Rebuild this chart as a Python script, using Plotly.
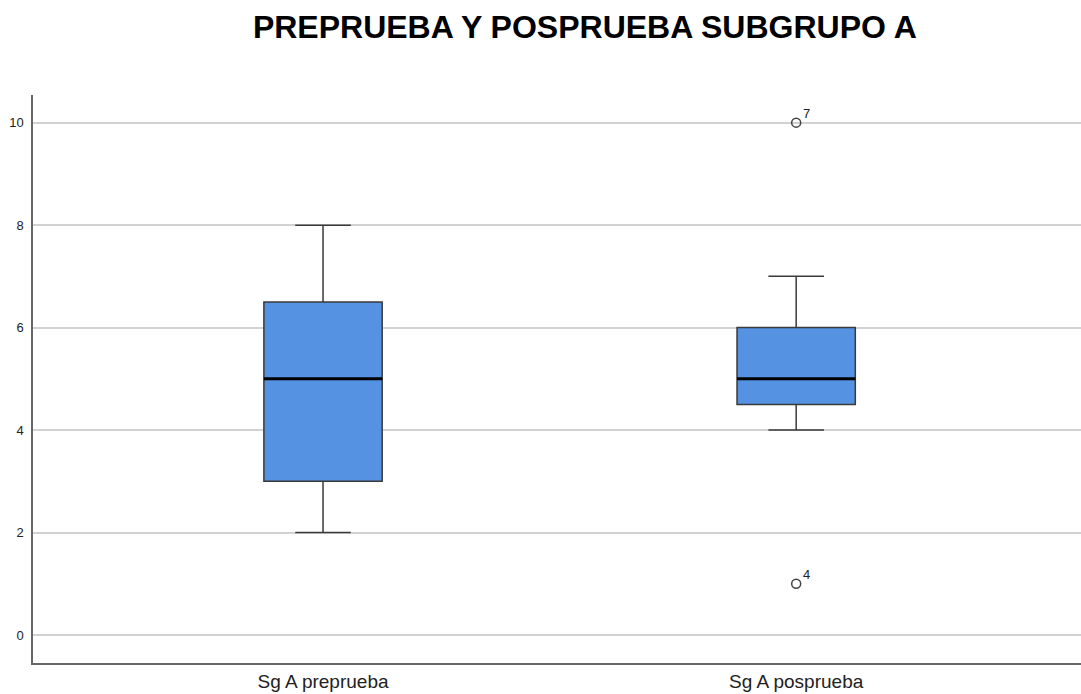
import plotly.graph_objects as go

categories = ["Sg A preprueba", "Sg A posprueba"]
q1 = [3.0, 4.5]
medians = [5.0, 5.0]
q3 = [6.5, 6.0]
lower = [2.0, 4.0]
upper = [8.0, 7.0]
outlier_group = [1, 1]
outlier_values = [10.0, 1.0]
outlier_labels = ["7", "4"]
y_ticks = [0, 2, 4, 6, 8, 10]

box_w = 0.25
fill = "#5592E2"
edge = "#3a3a3a"

fig = go.Figure()
for i, c in enumerate(categories):
    fig.add_trace(go.Box(
        x=[i], q1=[q1[i]], median=[medians[i]], q3=[q3[i]],
        lowerfence=[lower[i]], upperfence=[upper[i]],
        width=box_w, whiskerwidth=0.47,
        fillcolor=fill, line=dict(color=edge, width=1.5),
        boxpoints=False, showlegend=False, hoverinfo="skip", name=c))
    fig.add_trace(go.Scatter(
        x=[i - box_w / 2, i + box_w / 2], y=[medians[i], medians[i]],
        mode="lines", line=dict(color="black", width=3),
        showlegend=False, hoverinfo="skip"))

fig.add_trace(go.Scatter(
    x=outlier_group, y=outlier_values, mode="markers",
    marker=dict(symbol="circle-open", size=9, color="#444", line=dict(width=1.5)),
    showlegend=False, hoverinfo="skip"))
for xv, yv, lab in zip(outlier_group, outlier_values, outlier_labels):
    fig.add_annotation(x=xv, y=yv, text=lab, showarrow=False,
                       xanchor="left", yanchor="bottom", xshift=5, yshift=0,
                       font=dict(family="Arial, Liberation Sans", size=13, color="#222"))

fig.update_layout(
    width=1081, height=694,
    paper_bgcolor="white", plot_bgcolor="white",
    margin=dict(l=33, r=0, t=95, b=31, autoexpand=False),
    title=dict(text="<b>PREPRUEBA Y POSPRUEBA SUBGRUPO A</b>",
               x=0.541, xanchor="center", y=0.962, yanchor="middle",
               font=dict(family="Arial, Liberation Sans", size=32, color="black")),
    font=dict(family="Arial, Liberation Sans", color="#222"),
)
fig.update_xaxes(
    range=[-0.613, 1.602], tickvals=[0, 1], ticktext=categories,
    showgrid=False, zeroline=False, showline=True, linecolor="#666", linewidth=1.5,
    ticks="", ticklabelstandoff=0, tickfont=dict(size=19, color="#222"))
fig.update_yaxes(
    range=[-0.547, 10.54], tickvals=y_ticks, showgrid=True, gridcolor="#d2d2d2",
    gridwidth=1.5, zeroline=False, showline=True, linecolor="#666", linewidth=1.5,
    ticks="", ticklabelstandoff=5, tickfont=dict(size=13, color="#222"))

fig.write_html(
    "out.html",
    config={"displayModeBar": False},
    post_script="document.body.style.margin='0';document.body.style.overflow='hidden';")
